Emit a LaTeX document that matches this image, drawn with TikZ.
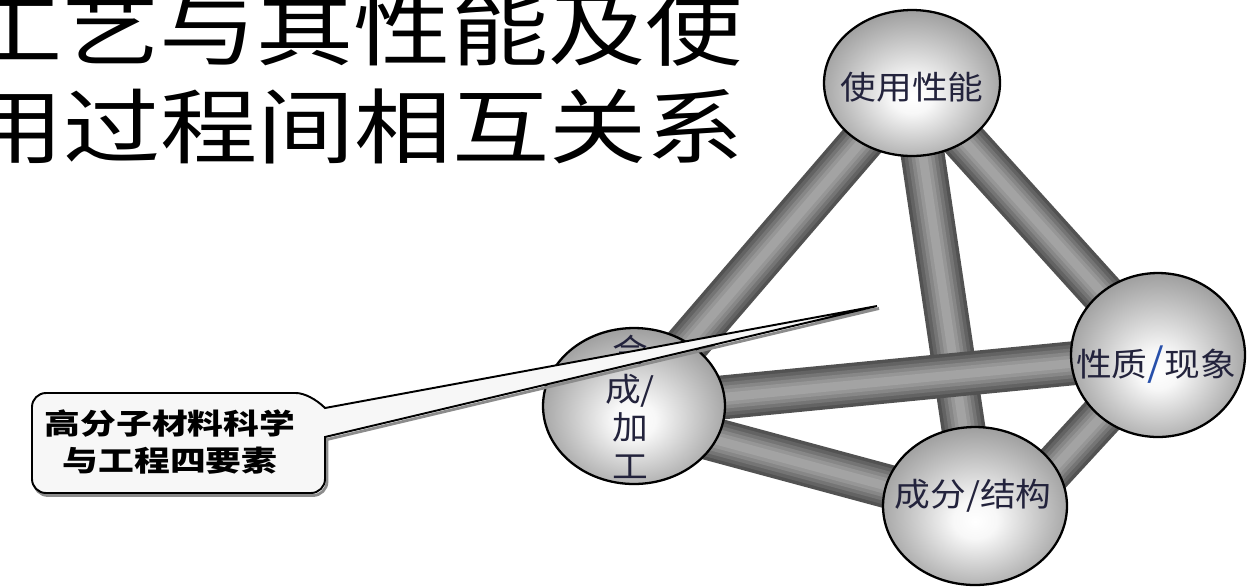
\documentclass[tikz,border=0pt]{standalone}
\usepackage{fontspec}
\newfontfamily\cjk{Noto Sans CJK SC}
\usetikzlibrary{shapes.geometric}
\pgfdeclarelayer{bg}
\pgfsetlayers{bg,main}
\definecolor{ink}{RGB}{35,35,60}
\definecolor{slashblue}{RGB}{40,80,170}
\pgfdeclareradialshading{sph}{\pgfpoint{0bp}{-5bp}}{color(0bp)=(white); color(6bp)=(white!97!black); color(20bp)=(white!74!black); color(36bp)=(white!48!black); color(50bp)=(white!24!black)}
\tikzset{
  ball/.style={ellipse, draw=black, line width=1.3pt, shading=sph, inner sep=0pt},
  rod/.style={draw=black!68, line width=25pt,
    postaction={draw=black!61, line width=21pt},
    postaction={draw=black!54, line width=17pt},
    postaction={draw=black!47, line width=13pt},
    postaction={draw=black!41, line width=9pt},
    postaction={draw=black!36, line width=5pt}},
  ttl/.style={inner sep=0pt, font=\cjk\fontsize{46.5pt}{50pt}\selectfont, xscale=1.19},
  stxt/.style={inner sep=0pt, text=ink, font=\cjk\fontsize{18.5pt}{22pt}\selectfont, xscale=1.1},
  ctxt/.style={inner sep=0pt, align=center, font=\cjk\bfseries\fontsize{16.3pt}{21pt}\selectfont, xscale=1.25},
  callout/.style={draw=black, line width=1.1pt, fill=white!97!black,
    preaction={draw=black!45, line width=1.6pt, transform canvas={xshift=0.04cm, yshift=-0.05cm}}}
}
\begin{document}
\begin{tikzpicture}[x=0.02cm, y=-0.02cm]
\begin{pgfonlayer}{bg}
\fill[white] (0,0) rectangle (1247,586);
\end{pgfonlayer}
\clip (0,0) rectangle (1247,586);
% title
\node[ttl] (t1) at (354,29) {工艺与其性能及使};
\node[ttl] (t2) at (355,127) {用过程间相互关系};
% spheres
\node[ball, minimum width=3.52cm, minimum height=2.92cm] (use) at (912,83) {};
\node[ball, minimum width=3.64cm, minimum height=3.12cm] (lft) at (634,406) {};
\node[ball, minimum width=3.48cm, minimum height=3.28cm] (rgt) at (1158,355) {};
\node[ball, minimum width=3.68cm, minimum height=3.16cm] (bot) at (975,506) {};
% rods
\begin{pgfonlayer}{bg}
\draw[rod] (use.center) -- (lft.center);
\draw[rod] (use.center) -- (bot.center);
\draw[rod] (use.center) -- (rgt.center);
\draw[rod] (lft.center) -- (rgt.center);
\draw[rod] ([yshift=-0.24cm]lft.center) -- ([yshift=-0.08cm]bot.center);
\draw[rod] (rgt.center) -- ([xshift=0.88cm]bot.center);
\end{pgfonlayer}
% sphere texts
\node[stxt] (tuse) at (912,87) {使用性能};
\node[stxt] (trgt) at (1156,365) {性质{\color{slashblue}\fontsize{22pt}{22pt}\selectfont/}现象};
\node[stxt] (tbot) at (973,496) {成分/结构};
\node[stxt, align=center] (tlft) at (630,407) {合\\成/\\加\\工};
% callout
\coordinate (tip) at (877,306);
\path[callout] (32,440) [rounded corners=0.28cm] -- (32,393) -- (282,393) [sharp corners] .. controls (304,393) and (316,399) .. (325,408) -- (tip) -- (325,437) [rounded corners=0.28cm] -- (325,493) -- (32,493) -- cycle;
\node[ctxt] (ctext) at (170,442) {高分子材料科学\\与工程四要素};
\end{tikzpicture}
\end{document}
